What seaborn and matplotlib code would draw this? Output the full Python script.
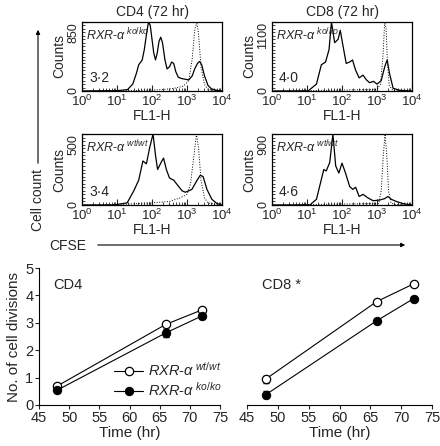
import numpy as np
import pandas as pd
import seaborn as sns
import matplotlib.pyplot as plt
from matplotlib.ticker import LogLocator, NullFormatter, MultipleLocator, FixedLocator
from matplotlib.patches import FancyArrowPatch

sns.set_theme(style="white")
plt.rcParams['font.family'] = ['Liberation Sans', 'DejaVu Sans']
plt.rcParams['mathtext.fontset'] = 'custom'
plt.rcParams['mathtext.rm'] = 'Liberation Sans'
plt.rcParams['mathtext.it'] = 'Liberation Sans:italic'

# ---- histogram data (log10 FL1-H, counts) ----
cd4_ko_x = [0.0, 1.0, 1.3, 1.45, 1.55, 1.62, 1.68, 1.72, 1.78, 1.85, 1.9, 1.95, 2.0, 2.05, 2.1, 2.15, 2.2,
            2.25, 2.3, 2.37, 2.43, 2.5, 2.56, 2.62, 2.68, 2.75, 2.85, 2.95, 3.05, 3.15, 3.22, 3.3, 3.36,
            3.42, 3.5, 3.6, 3.7, 3.85, 4.0]
cd4_ko_y = [0, 4, 17, 85, 212, 323, 357, 383, 510, 722, 850, 808, 638, 468, 383, 468, 612,
            663, 595, 383, 272, 298, 357, 340, 238, 170, 153, 145, 136, 187, 272, 340, 365,
            323, 187, 68, 26, 8, 0]
cd4_ko_dx = [0.0, 1.5, 2.2, 2.6, 2.9, 3.05, 3.15, 3.22, 3.28, 3.33, 3.4, 3.5, 3.6, 3.8, 4.0]
cd4_ko_dy = [0, 5, 15, 30, 60, 130, 400, 750, 850, 700, 300, 80, 20, 5, 0]

cd8_ko_x = [0.0, 1.03, 1.27, 1.41, 1.53, 1.63, 1.7, 1.79, 1.89, 1.95, 2.03, 2.12, 2.22, 2.3, 2.39, 2.49,
            2.6, 2.7, 2.79, 2.9, 3.0, 3.12, 3.22, 3.29, 3.36, 3.46, 3.65, 4.0]
cd8_ko_y = [0, 0, 110, 418, 462, 660, 1100, 770, 825, 968, 715, 440, 462, 495, 330, 209,
            253, 176, 132, 154, 110, 165, 385, 495, 275, 44, 11, 0]
cd8_ko_dx = [0.0, 1.5, 2.5, 3.0, 3.1, 3.17, 3.22, 3.26, 3.3, 3.35, 3.45, 4.0]
cd8_ko_dy = [0, 10, 20, 22, 110, 550, 1100, 990, 440, 88, 11, 0]

cd4_wt_x = [0.0, 0.9, 1.29, 1.48, 1.62, 1.74, 1.84, 1.93, 2.03, 2.1, 2.16, 2.26, 2.33, 2.41, 2.5, 2.62,
            2.73, 2.86, 2.95, 3.05, 3.14, 3.29, 3.38, 3.46, 3.57, 3.71, 3.86, 4.0]
cd4_wt_y = [0, 0, 15, 100, 175, 310, 290, 400, 500, 350, 250, 300, 330, 250, 190, 175,
            140, 100, 90, 100, 110, 175, 210, 200, 110, 40, 10, 0]
cd4_wt_dx = [0.0, 1.2, 2.0, 2.5, 2.8, 3.0, 3.1, 3.2, 3.27, 3.33, 3.4, 3.5, 3.6, 3.8, 4.0]
cd4_wt_dy = [0, 5, 15, 25, 50, 75, 150, 350, 500, 400, 175, 50, 15, 5, 0]

cd8_wt_x = [0.0, 1.08, 1.27, 1.38, 1.48, 1.55, 1.65, 1.74, 1.82, 1.91, 2.0, 2.1, 2.22, 2.31, 2.39, 2.49,
            2.6, 2.74, 2.89, 3.08, 3.22, 3.31, 3.41, 3.55, 3.74, 4.0]
cd8_wt_y = [0, 0, 72, 270, 450, 432, 540, 900, 495, 405, 531, 405, 234, 198, 225, 108,
            135, 90, 54, 63, 81, 108, 72, 45, 18, 0]
cd8_wt_dx = [0.0, 1.5, 2.5, 3.05, 3.12, 3.18, 3.23, 3.28, 3.33, 3.4, 3.5, 4.0]
cd8_wt_dy = [0, 9, 15, 18, 180, 630, 900, 630, 180, 27, 5, 0]

hist_titles = ['CD4 (72 hr)', 'CD8 (72 hr)']
hist_ymax = [850, 1100, 500, 900]
hist_numbers = ['3·2', '4·0', '3·4', '4·6']
hist_genotype = ['ko/ko', 'ko/ko', 'wt/wt', 'wt/wt']

# ---- cell division data ----
times = [48, 66, 72]
cd4_wt = [0.69, 2.94, 3.47]
cd4_wt_err = [0.06, 0.10, 0.06]
cd4_ko = [0.54, 2.63, 3.25]
cd4_ko_err = [0.06, 0.13, 0.08]
cd8_wt = [0.94, 3.77, 4.42]
cd8_wt_err = [0.13, 0.05, 0.05]
cd8_ko = [0.37, 3.07, 3.88]
cd8_ko_err = [0.13, 0.07, 0.06]

W, H = 440, 446
fig = plt.figure(figsize=(W / 100, H / 100), dpi=100)


def fax(x0, y0, x1, y1):
    # pixel box (top-left origin) -> axes
    return fig.add_axes([x0 / W, 1 - y1 / H, (x1 - x0) / W, (y1 - y0) / H])


def label(geno):
    return r'$\mathit{RXR}$-$\mathit{\alpha}^{\ \mathit{' + geno + '}}$'


hist_boxes = [(82, 22, 222, 91), (272, 22, 412, 91), (82, 134, 222, 205), (272, 134, 412, 205)]
solid = [(cd4_ko_x, cd4_ko_y), (cd8_ko_x, cd8_ko_y), (cd4_wt_x, cd4_wt_y), (cd8_wt_x, cd8_wt_y)]
dotted = [(cd4_ko_dx, cd4_ko_dy), (cd8_ko_dx, cd8_ko_dy), (cd4_wt_dx, cd4_wt_dy), (cd8_wt_dx, cd8_wt_dy)]

for i, box in enumerate(hist_boxes):
    ax = fax(*box)
    sx, sy = solid[i]
    dx, dy = dotted[i]
    sns.lineplot(x=10 ** np.array(dx), y=dy, ax=ax, color='black', lw=0.7, linestyle=':')
    sns.lineplot(x=10 ** np.array(sx), y=sy, ax=ax, color='black', lw=0.9)
    ax.set_xscale('log')
    ax.set_xlim(1, 1e4)
    ax.set_ylim(0, hist_ymax[i])
    ax.xaxis.set_major_locator(LogLocator(base=10, numticks=10))
    ax.xaxis.set_minor_locator(LogLocator(base=10, subs=np.arange(2, 10), numticks=10))
    ax.xaxis.set_minor_formatter(NullFormatter())
    ax.yaxis.set_major_locator(FixedLocator([0, hist_ymax[i]]))
    ax.yaxis.set_minor_locator(MultipleLocator(hist_ymax[i] / 20))
    ax.tick_params(axis='both', which='major', direction='in', length=4, width=0.8,
                   labelsize=9.5, pad=2, left=True, bottom=True)
    ax.tick_params(axis='y', which='major', labelsize=9)
    ax.tick_params(axis='both', which='minor', direction='in', length=2, width=0.6, left=True, bottom=True)
    ylabs = ax.get_yticklabels()
    for k, lab in enumerate(ylabs):
        lab.set_rotation(90)
        lab.set_va('top' if k == 1 else 'center')
    for sp in ax.spines.values():
        sp.set_color('black')
        sp.set_linewidth(0.9)
    ax.set_xlabel('FL1-H', fontsize=10, labelpad=0)
    ax.set_ylabel('Counts', fontsize=10, labelpad=1)
    ax.text(0.03, 0.93, label(hist_genotype[i]), transform=ax.transAxes, fontsize=9,
            va='top', ha='left')
    ax.text(0.05, 0.08, hist_numbers[i], transform=ax.transAxes, fontsize=10,
            va='bottom', ha='left')
    if i < 2:
        ax.set_title(hist_titles[i], fontsize=10, pad=4)

# axis arrows for the histogram block
fig.text(38 / W, 1 - 200 / H, 'Cell count', rotation=90, ha='center', va='center', fontsize=10)
fig.add_artist(FancyArrowPatch((38 / W, 1 - 166 / H), (38 / W, 1 - 27 / H),
                               transform=fig.transFigure, arrowstyle='-|>',
                               mutation_scale=6, lw=0.8, color='black'))
fig.text(68 / W, 1 - 246 / H, 'CFSE', ha='center', va='center', fontsize=10)
fig.add_artist(FancyArrowPatch((95 / W, 1 - 245 / H), (408 / W, 1 - 245 / H),
                               transform=fig.transFigure, arrowstyle='-|>',
                               mutation_scale=6, lw=0.8, color='black'))

# ---- bottom line plots ----
line_boxes = [(39, 268, 220, 405), (247, 268, 432, 405)]
line_data = [(cd4_wt, cd4_wt_err, cd4_ko, cd4_ko_err, 'CD4'),
             (cd8_wt, cd8_wt_err, cd8_ko, cd8_ko_err, 'CD8 *')]

for j, box in enumerate(line_boxes):
    ax = fax(*box)
    wt, wte, ko, koe, name = line_data[j]
    ax.errorbar(times, wt, yerr=wte, fmt='none', ecolor='black', elinewidth=0.8, capsize=2, zorder=2)
    ax.errorbar(times, ko, yerr=koe, fmt='none', ecolor='black', elinewidth=0.8, capsize=2, zorder=2)
    sns.lineplot(x=times, y=wt, ax=ax, color='black', lw=0.8, marker='o', markersize=6,
                 markerfacecolor='white', markeredgecolor='black', markeredgewidth=0.9,
                 label=label('wt/wt'), zorder=3)
    sns.lineplot(x=times, y=ko, ax=ax, color='black', lw=0.8, marker='o', markersize=6,
                 markerfacecolor='black', markeredgecolor='black', label=label('ko/ko'), zorder=3)
    ax.set_xlim(45, 75)
    ax.set_ylim(0, 5)
    ax.set_xticks([45, 50, 55, 60, 65, 70, 75])
    ax.set_yticks([0, 1, 2, 3, 4, 5])
    ax.tick_params(direction='out', length=3, width=0.8, labelsize=10.5, pad=1,
                   left=(j == 0), bottom=True)
    for sp in ['top', 'right']:
        ax.spines[sp].set_visible(False)
    ax.spines['bottom'].set_color('black')
    ax.spines['bottom'].set_linewidth(0.8)
    ax.spines['left'].set_color('black')
    ax.spines['left'].set_linewidth(0.8)
    ax.set_xlabel('Time (hr)', fontsize=11, labelpad=1)
    ax.text(0.08, 0.93, name, transform=ax.transAxes, fontsize=10.5, va='top', ha='left')
    if j == 0:
        ax.set_ylabel('No. of cell divisions', fontsize=11, labelpad=3)
        ax.legend(loc='lower right', frameon=False, fontsize=10.5, handlelength=2.0,
                  handletextpad=0.3, labelspacing=0.15, borderaxespad=0.0,
                  bbox_to_anchor=(1.04, 0.0))
    else:
        ax.spines['left'].set_visible(False)
        ax.set_yticks([])
        ax.get_legend().remove()

fig.savefig('out.png', dpi=100)
